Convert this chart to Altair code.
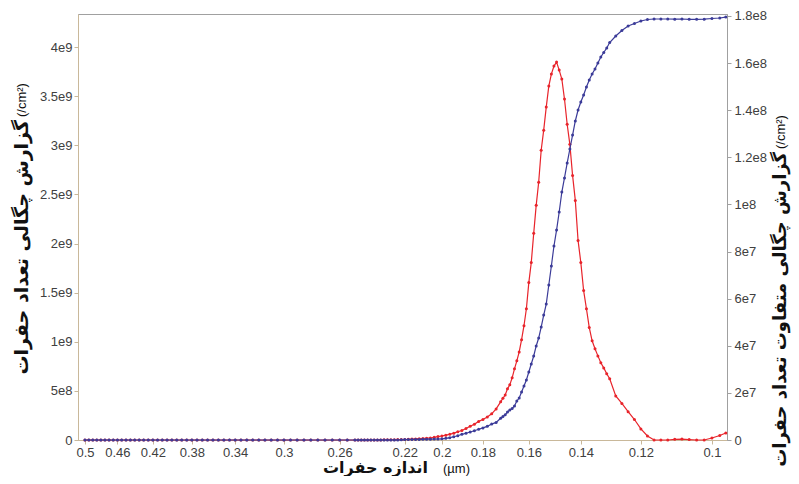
import altair as alt
import pandas as pd

# ---------------- data ----------------
# pore size (µm)
size_flat = [0.500, 0.495, 0.490, 0.485, 0.480, 0.475, 0.470, 0.465, 0.460, 0.455,
             0.450, 0.445, 0.440, 0.435, 0.430, 0.425, 0.420, 0.415, 0.410, 0.405,
             0.400, 0.395, 0.390, 0.385, 0.380, 0.375, 0.370, 0.365, 0.360, 0.355,
             0.350, 0.345, 0.340, 0.335, 0.330, 0.325, 0.320, 0.315, 0.310, 0.305,
             0.300, 0.295, 0.290, 0.285, 0.280, 0.275, 0.270, 0.265, 0.260, 0.255, 0.250]
cum_flat = [0.0, 0.0, 0.0, 0.0, 0.0, 0.0, 0.0, 0.0, 0.0, 0.0,
            0.0, 0.0, 0.0, 0.0, 0.0, 0.0, 0.0, 0.0, 0.0, 0.0,
            0.0, 0.0, 0.0, 0.0, 0.0, 0.0, 0.0, 0.0, 0.0, 0.0,
            0.0, 0.0, 0.0, 0.0, 0.0, 0.0, 0.0, 0.0, 0.0, 0.0,
            0.0, 0.0, 0.0, 0.0, 0.0, 0.0, 0.0, 0.0, 0.0, 0.0, 0.0]
diff_flat = [0.0, 0.0, 0.0, 0.0, 0.0, 0.0, 0.0, 0.0, 0.0, 0.0,
             0.0, 0.0, 0.0, 0.0, 0.0, 0.0, 0.0, 0.0, 0.0, 0.0,
             0.0, 0.0, 0.0, 0.0, 0.0, 0.0, 0.0, 0.0, 0.0, 0.0,
             0.0, 0.0, 0.0, 0.0, 0.0, 0.0, 0.0, 0.0, 0.0, 0.0,
             0.0, 0.0, 0.0, 0.0, 0.0, 0.0, 0.0, 0.0, 0.0, 0.0, 0.0]

size_rise = [0.248, 0.246, 0.244, 0.242, 0.240, 0.238, 0.236, 0.234, 0.232, 0.230,
             0.228, 0.226, 0.224, 0.222, 0.220, 0.218, 0.216, 0.214, 0.212, 0.210,
             0.208, 0.206, 0.204, 0.202, 0.200, 0.198, 0.196, 0.194, 0.192, 0.190,
             0.188, 0.186, 0.184, 0.182, 0.180, 0.178, 0.176, 0.174, 0.172]
cum_rise = [0.0, 0.0, 0.0, 0.0, 0.0, 0.0, 0.0, 0.0, 0.0, 0.0,
            0.0, 0.0, 0.0, 0.002, 0.004, 0.005, 0.005, 0.006, 0.006, 0.007,
            0.008, 0.008, 0.009, 0.010, 0.012, 0.017, 0.024, 0.033, 0.043, 0.058,
            0.069, 0.081, 0.094, 0.109, 0.123, 0.139, 0.162, 0.179, 0.222]
diff_rise = [0.0, 0.0, 0.0, 0.0, 0.0, 0.001, 0.002, 0.004, 0.006, 0.009,
             0.011, 0.013, 0.017, 0.019, 0.021, 0.03, 0.038, 0.047, 0.055, 0.064,
             0.077, 0.085, 0.115, 0.145, 0.17, 0.204, 0.243, 0.29, 0.35, 0.404,
             0.49, 0.58, 0.67, 0.79, 0.87, 0.98, 1.11, 1.32, 1.62]

size_peak = [0.171, 0.170, 0.169, 0.168, 0.167, 0.166, 0.165, 0.164, 0.163, 0.162,
             0.161, 0.160, 0.159, 0.158, 0.157, 0.156, 0.155, 0.154, 0.153, 0.152,
             0.151, 0.150, 0.149, 0.148, 0.147, 0.146, 0.145, 0.144, 0.143, 0.142,
             0.141, 0.140, 0.139, 0.138, 0.137, 0.136, 0.135, 0.134, 0.133, 0.132,
             0.131, 0.130]
cum_peak = [0.239, 0.256, 0.285, 0.305, 0.321, 0.346, 0.397, 0.427, 0.489, 0.550,
            0.611, 0.692, 0.774, 0.855, 0.957, 1.038, 1.150, 1.272, 1.384, 1.578,
            1.771, 1.975, 2.137, 2.321, 2.524, 2.667, 2.819, 2.962, 3.104, 3.247,
            3.359, 3.440, 3.511, 3.593, 3.664, 3.725, 3.776, 3.837, 3.898, 3.944,
            3.990, 4.046]
diff_peak = [1.77, 1.91, 2.17, 2.34, 2.64, 3.02, 3.36, 3.74, 4.26, 4.85,
             5.57, 6.68, 7.53, 8.77, 9.96, 10.94, 12.30, 13.15, 14.13, 15.02,
             15.53, 15.87, 16.04, 15.70, 15.32, 14.47, 13.40, 12.55, 11.23, 10.17,
             8.47, 7.53, 6.34, 5.57, 4.77, 4.21, 3.87, 3.57, 3.28, 3.06,
             2.81, 2.60]

size_tail = [0.128, 0.126, 0.124, 0.122, 0.120, 0.118, 0.116, 0.114, 0.112, 0.110,
             0.108, 0.106, 0.104, 0.102, 0.100, 0.098, 0.0965]
cum_tail = [4.112, 4.168, 4.214, 4.239, 4.265, 4.280, 4.285, 4.285, 4.285, 4.283,
            4.285, 4.282, 4.282, 4.283, 4.290, 4.295, 4.305]
diff_tail = [1.87, 1.55, 1.20, 0.87, 0.47, 0.17, 0.0, 0.0, 0.0, 0.03,
             0.04, 0.02, 0.0, 0.0, 0.085, 0.19, 0.30]

x_ticks = [0.5, 0.46, 0.42, 0.38, 0.34, 0.3, 0.26, 0.22, 0.2, 0.18, 0.16, 0.14, 0.12, 0.1]
left_ticks = [0, 5e8, 1e9, 1.5e9, 2e9, 2.5e9, 3e9, 3.5e9, 4e9]
right_ticks = [0, 2e7, 4e7, 6e7, 8e7, 1e8, 1.2e8, 1.4e8, 1.6e8, 1.8e8]

x_title = "اندازه حفرات"
x_unit = "(µm)"
left_title = "گزارش چگالی تعداد حفرات"
right_title = "گزارش چگالی متفاوت تعداد حفرات"
y_unit = "(/cm²)"

# ---------------- build table ----------------
sizes = size_flat + size_rise + size_peak + size_tail
cum = [v * 1e9 for v in cum_flat + cum_rise + cum_peak + cum_tail]
diff = [v * 1e7 for v in diff_flat + diff_rise + diff_peak + diff_tail]
df = pd.DataFrame({"size": sizes, "cum": cum, "diff": diff})

RED = "#e8242b"
BLUE = "#3b3b98"
LABEL_FONT = "Liberation Sans"
TITLE_FONT = "DejaVu Sans"
W, H = 649, 426

sci = "datum.value == 0 ? '0' : replace(format(datum.value, '~e'), 'e+', 'e')"

x_enc = alt.X(
    "size:Q",
    scale=alt.Scale(type="log", domain=[0.0962, 0.509], reverse=True, nice=False),
    axis=alt.Axis(values=x_ticks, format="~g", title=None, grid=False,
                  domainColor="#c9b89a", tickColor="#c9b89a", tickSize=4,
                  labelFont=LABEL_FONT, labelFontSize=13, labelColor="#404040",
                  labelPadding=2, labelFlush=False),
)

red = alt.Chart(df).mark_line(
    color=RED, strokeWidth=1.2,
    point=alt.OverlayMarkDef(color=RED, size=9, filled=True, opacity=1),
).encode(
    x=x_enc,
    y=alt.Y("diff:Q",
            scale=alt.Scale(domain=[0, 1.808e8], nice=False, zero=True),
            axis=alt.Axis(orient="right", values=right_ticks, labelExpr=sci, title=None,
                          grid=False, domainColor="#a0a0a0", tickColor="#a0a0a0",
                          tickSize=4, labelFont=LABEL_FONT, labelFontSize=13,
                          labelColor="#404040", labelPadding=3)),
)

blue = alt.Chart(df).mark_line(
    color=BLUE, strokeWidth=1.2,
    point=alt.OverlayMarkDef(color=BLUE, size=9, filled=True, opacity=1),
).encode(
    x=x_enc,
    y=alt.Y("cum:Q",
            scale=alt.Scale(domain=[0, 4.336e9], nice=False, zero=True),
            axis=alt.Axis(orient="left", values=left_ticks, labelExpr=sci, title=None,
                          grid=False, domainColor="#c9b89a", tickColor="#c9b89a",
                          tickSize=4, labelFont=LABEL_FONT, labelFontSize=13,
                          labelColor="#404040", labelPadding=2)),
)


def label(text, x, y, angle, align, bold, size):
    props = dict(align=align, baseline="middle", font=TITLE_FONT if bold else LABEL_FONT,
                 fontSize=size, fontWeight="bold" if bold else "normal", color="#111111")
    if angle:
        props["angle"] = angle
    return alt.Chart(pd.DataFrame({"t": [text]})).mark_text(**props).encode(
        text="t:N", x=alt.value(x), y=alt.value(y))


titles = [
    label(x_title, 350, 454, 0, "right", True, 16),
    label(x_unit, 365, 455, 0, "left", False, 13),
    label(left_title, -56, 106, 270, "right", True, 19),
    label(y_unit, -56, 103, 270, "left", False, 13),
    label(right_title, 703, 138, 270, "right", True, 18),
    label(y_unit, 703, 135, 270, "left", False, 13),
]

plot = alt.layer(red, blue).resolve_scale(y="independent")
chart = alt.layer(plot, *titles).properties(
    width=W, height=H,
    autosize=alt.AutoSizeParams(type="none"),
    padding={"left": 70, "top": 6, "right": 64, "bottom": 36},
).configure_view(stroke="#a0a0a0", strokeWidth=1)

chart.save("out.html", embed_options={"renderer": "svg", "actions": False})
